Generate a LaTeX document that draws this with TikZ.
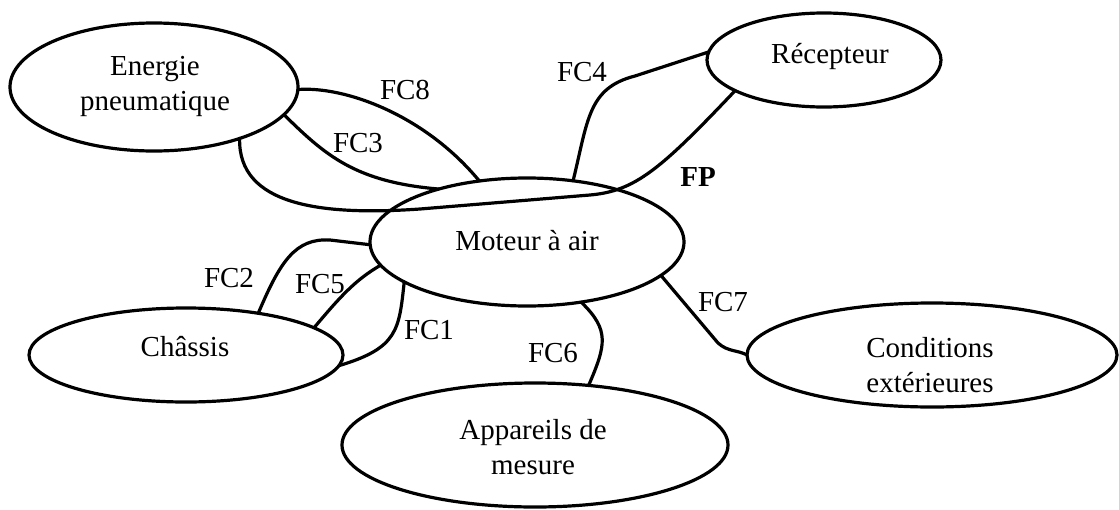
\documentclass[tikz,border=0pt]{standalone}
\usepackage{fontspec}
\setmainfont{Liberation Serif}
\usetikzlibrary{shapes.geometric}
\begin{document}
\begin{tikzpicture}[x=0.5pt,y=-0.5pt,
  ell/.style={ellipse,draw,line width=1.6pt,inner sep=0pt,outer sep=0pt},
  txt/.style={font=\fontsize{14.5}{17.5}\selectfont,inner sep=0pt,align=center},
  con/.style={line width=1.6pt,line cap=round}]
\useasboundingbox (0,0) rectangle (1119,509);
% ellipses
\node[ell,minimum width=144pt,minimum height=64pt] (en) at (154,87) {};
\node[ell,minimum width=117pt,minimum height=47pt] (rec) at (824,60) {};
\node[ell,minimum width=157pt,minimum height=64pt] (mot) at (527,242) {};
\node[ell,minimum width=157pt,minimum height=47pt] (ch) at (186,355) {};
\node[ell,minimum width=193pt,minimum height=62pt] (ap) at (535,445) {};
\node[ell,minimum width=185pt,minimum height=52pt] (cond) at (932,355) {};
% ellipse texts
\node[txt] (enT) at (155,86) {Energie\\pneumatique};
\node[txt] (recT) at (830,57) {Récepteur};
\node[txt] (motT) at (527,241) {Moteur à air};
\node[txt] (chT) at (185,347) {Châssis};
\node[txt] (apT) at (533,447) {Appareils de\\mesure};
\node[txt] (condT) at (930,365) {Conditions\\extérieures};
% connectors
\draw[con] (en.359) .. controls (345,86) and (425,115) .. (mot.128);
\draw[con] (en.348) .. controls (325,155) and (355,182) .. (mot.149);
\draw[con] (en.329) .. controls (238,205) and (320,216) .. (420,209) -- (590,195) .. controls (635,191) and (660,170) .. (rec.199);
\draw[con] (mot.53) .. controls (588,120) and (588,88) .. (635,76) -- (rec.176);
\draw[con] (ch.30) .. controls (280,262) and (295,238) .. (330,240) -- (mot.181);
\draw[con] (ch.12) .. controls (340,297) and (355,280) .. (mot.189.5);
\draw[con] (mot.198) .. controls (399,330) and (398,348) .. (ch.356);
\draw[con] (mot.312) .. controls (610,330) and (606,345) .. (ap.48.5);
\draw[con] (mot.346.6) -- (718,343) .. controls (728,352) and (738,350) .. (cond.180);
% labels
\node[txt] (lFC8) at (405,90) {FC8};
\node[txt] (lFC3) at (358,143) {FC3};
\node[txt] (lFP) at (698,177) {\bfseries FP};
\node[txt] (lFC4) at (582,72) {FC4};
\node[txt] (lFC2) at (229,278) {FC2};
\node[txt] (lFC5) at (320,284) {FC5};
\node[txt] (lFC1) at (429,330) {FC1};
\node[txt] (lFC6) at (553,353) {FC6};
\node[txt] (lFC7) at (723,302) {FC7};
\end{tikzpicture}
\end{document}
